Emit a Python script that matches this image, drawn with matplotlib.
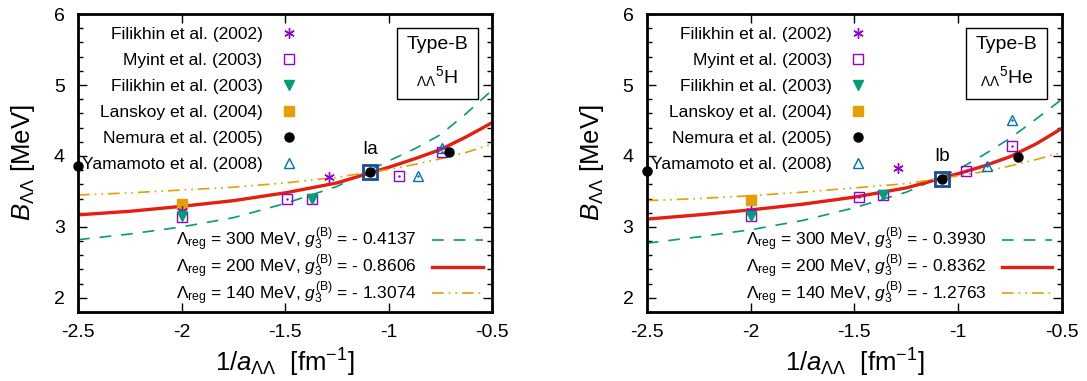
import matplotlib
matplotlib.use("Agg")
import matplotlib.pyplot as plt
from matplotlib.ticker import MultipleLocator

plt.rcParams['font.family'] = ['Liberation Sans', 'DejaVu Sans']
plt.rcParams['mathtext.fontset'] = 'custom'
plt.rcParams['mathtext.rm'] = 'Liberation Sans'
plt.rcParams['mathtext.it'] = 'Liberation Sans:italic'

# Pontos x onde as curvas foram lidas
curva_x = [-2.5, -2.25, -2.0, -1.75, -1.5, -1.25, -1.0, -0.875, -0.75, -0.625, -0.5]

# Curvas do painel 5H (Lambda_reg = 300, 200, 140 MeV)
h_300 = [2.82, 2.90, 3.00, 3.13, 3.33, 3.57, 3.93, 4.10, 4.30, 4.60, 4.93]
h_200 = [3.17, 3.22, 3.29, 3.37, 3.48, 3.62, 3.84, 3.96, 4.09, 4.27, 4.47]
h_140 = [3.45, 3.48, 3.52, 3.56, 3.62, 3.70, 3.81, 3.88, 3.96, 4.05, 4.17]

# Curvas do painel 5He
he_300 = [2.77, 2.86, 2.96, 3.09, 3.27, 3.49, 3.81, 4.02, 4.25, 4.52, 4.80]
he_200 = [3.11, 3.17, 3.24, 3.32, 3.42, 3.55, 3.75, 3.86, 3.99, 4.17, 4.39]
he_140 = [3.37, 3.40, 3.44, 3.49, 3.55, 3.61, 3.72, 3.78, 3.86, 3.95, 4.05]

g3_h = ['- 0.4137', '- 0.8606', '- 1.3074']
g3_he = ['- 0.3930', '- 0.8362', '- 1.2763']
lambdas = [300, 200, 140]

# Resultados de outros trabalhos (x = 1/a, y = B)
h_filikhin02 = [(-2.0, 3.22), (-1.29, 3.70)]
h_myint03 = [(-2.0, 3.14), (-1.49, 3.39), (-1.37, 3.40), (-0.95, 3.72), (-0.74, 4.05)]
h_filikhin03 = [(-2.0, 3.16), (-1.37, 3.40)]
h_lanskoy04 = [(-2.0, 3.32)]
h_nemura05 = [(-2.5, 3.86), (-1.09, 3.77), (-0.71, 4.06)]
h_yamamoto08 = [(-0.86, 3.72), (-0.74, 4.11)]
h_destaque = (-1.09, 3.77)

he_filikhin02 = [(-2.0, 3.22), (-1.29, 3.83)]
he_myint03 = [(-2.0, 3.15), (-1.48, 3.42), (-1.36, 3.45), (-0.96, 3.79), (-0.74, 4.14)]
he_filikhin03 = [(-2.0, 3.15), (-1.36, 3.45)]
he_lanskoy04 = [(-2.0, 3.38)]
he_nemura05 = [(-2.5, 3.79), (-1.08, 3.67), (-0.71, 3.99)]
he_yamamoto08 = [(-0.86, 3.86), (-0.74, 4.51)]
he_destaque = (-1.08, 3.67)

nomes_refs = ['Filikhin et al. (2002)', 'Myint et al. (2003)', 'Filikhin et al. (2003)',
              'Lanskoy et al. (2004)', 'Nemura et al. (2005)', 'Yamamoto et al. (2008)']

ROXO = '#9400d3'
VERDE = '#009e73'
LARANJA = '#e69f00'
AZUL = '#0072b2'
VERMELHO = '#e51e10'
AZUL_ESCURO = '#1a4a9a'


def xs(pts):
    return [p[0] for p in pts]


def ys(pts):
    return [p[1] for p in pts]


def desenhar_painel(ax, curvas, g3, refs, destaque, rotulo, nucleo):
    # Curvas teoricas
    estilos = [dict(color=VERDE, lw=1.2, dashes=(7, 6)),
               dict(color=VERMELHO, lw=2.4),
               dict(color=LARANJA, lw=1.2, dashes=(7, 3, 1, 3, 1, 3))]
    linhas = []
    for y, lam, g, st in zip(curvas, lambdas, g3, estilos):
        lab = r'$\Lambda_{\rm reg}$ = %d MeV, $g_3^{\rm (B)}$ = %s' % (lam, g)
        l, = ax.plot(curva_x, y, label=lab, zorder=2, **st)
        linhas.append(l)

    # Pontos de referencia
    fil02, myi03, fil03, lan04, nem05, yam08 = refs
    ms = 7
    h1, = ax.plot(xs(fil02), ys(fil02), ls='none', marker=(6, 2, 0), ms=ms + 0.5,
                  mec=ROXO, mew=1.0, zorder=4)
    h2, = ax.plot(xs(myi03), ys(myi03), ls='none', marker='s', ms=ms, mfc='none',
                  mec=ROXO, mew=1.0, zorder=4)
    ax.plot(xs(myi03), ys(myi03), ls='none', marker='.', ms=1.5, color=ROXO, zorder=4)
    h3, = ax.plot(xs(fil03), ys(fil03), ls='none', marker='v', ms=ms, color=VERDE, zorder=5)
    h4, = ax.plot(xs(lan04), ys(lan04), ls='none', marker='s', ms=ms + 0.3, color=LARANJA, zorder=3)
    h5, = ax.plot(xs(nem05), ys(nem05), ls='none', marker='o', ms=ms - 0.5, color='black',
                  zorder=6, clip_on=False)
    h6, = ax.plot(xs(yam08), ys(yam08), ls='none', marker='^', ms=ms, mfc='none',
                  mec=AZUL, mew=1.0, zorder=4)
    ax.plot(xs(yam08), ys(yam08), ls='none', marker='.', ms=1.5, color=AZUL, zorder=4)

    # Ponto destacado (Ia / Ib)
    ax.plot(destaque[0], destaque[1], ls='none', marker='s', ms=10.5, mfc='none',
            mec=AZUL_ESCURO, mew=2.0, zorder=7)
    ax.text(destaque[0], destaque[1] + 0.2, rotulo, ha='center', va='bottom',
            fontsize=13.5, zorder=8)

    # Legenda dos pontos (texto alinhado a direita, marcador depois)
    leg1 = ax.legend([h1, h2, h3, h4, h5, h6], nomes_refs, loc='upper right',
                     bbox_to_anchor=(0.565, 1.0), markerfirst=False, frameon=False,
                     fontsize=12.5, labelspacing=0.62, handlelength=1.2,
                     handletextpad=0.9, borderaxespad=0.35)
    ax.add_artist(leg1)

    # Legenda das curvas
    ax.legend(handles=linhas, loc='lower right', markerfirst=False, frameon=False,
              fontsize=12.5, labelspacing=-0.09, handlelength=2.9, handletextpad=0.9,
              borderaxespad=0.1, bbox_to_anchor=(0.998, -0.015))

    # Caixa com o tipo e o nucleo
    ax.text(0.867, 0.837, 'Type-B\n' + nucleo, transform=ax.transAxes, ha='center',
            va='center', fontsize=14, multialignment='center', linespacing=1.6,
            bbox=dict(boxstyle='square,pad=0.5', fc='white', ec='black', lw=1.0),
            zorder=9)

    # Eixos
    ax.set_xlim(-2.5, -0.5)
    ax.set_ylim(1.8, 6.0)
    ax.xaxis.set_major_locator(MultipleLocator(0.5))
    ax.yaxis.set_major_locator(MultipleLocator(1))
    ax.yaxis.set_minor_locator(MultipleLocator(0.2))
    ax.tick_params(which='both', direction='in', top=True, right=True, labelsize=14)
    ax.tick_params(axis='x', pad=8.5)
    ax.tick_params(axis='y', pad=9.5)
    ax.tick_params(which='major', length=6.5, width=1.0)
    ax.tick_params(which='minor', length=3.5, width=1.0)
    ax.set_xticks([-2.5, -2, -1.5, -1, -0.5])
    ax.set_xticklabels(['-2.5', '-2', '-1.5', '-1', '-0.5'])
    ax.set_yticks([2, 3, 4, 5, 6])
    ax.set_yticklabels(['2', '3', '4', '5', '6'])
    for s in ax.spines.values():
        s.set_linewidth(2.0)
    ax.set_xlabel(r'1/$a_{\Lambda\Lambda}$  [fm$^{-1}$]', fontsize=18.5, labelpad=4)
    ax.set_ylabel(r'$B_{\Lambda\Lambda}$ [MeV]', fontsize=18.5, labelpad=12)


fig = plt.figure(figsize=(10.87, 3.81), dpi=100)
ax1 = fig.add_axes([0.0718, 0.181, 0.381, 0.782])
ax2 = fig.add_axes([0.595, 0.181, 0.382, 0.782])

desenhar_painel(ax1, [h_300, h_200, h_140], g3_h,
                [h_filikhin02, h_myint03, h_filikhin03, h_lanskoy04, h_nemura05, h_yamamoto08],
                h_destaque, 'Ia', r'$_{\Lambda\Lambda}$$^{5}$H')
desenhar_painel(ax2, [he_300, he_200, he_140], g3_he,
                [he_filikhin02, he_myint03, he_filikhin03, he_lanskoy04, he_nemura05, he_yamamoto08],
                he_destaque, 'Ib', r'$_{\Lambda\Lambda}$$^{5}$He')

fig.savefig('out.png', dpi=100)
plt.close(fig)
